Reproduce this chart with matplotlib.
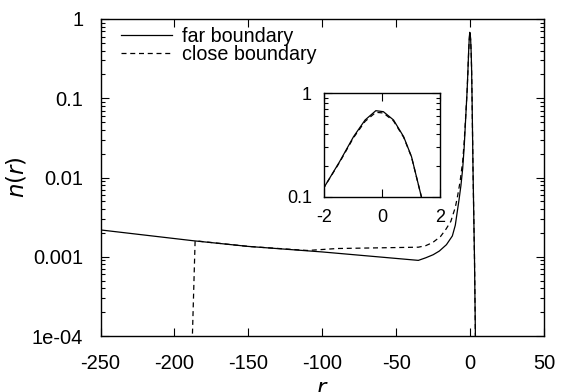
import numpy as np
import matplotlib
matplotlib.use("Agg")
from matplotlib import pyplot as plt
from matplotlib.ticker import FixedLocator, FixedFormatter, LogLocator, NullFormatter, NullLocator

plt.rcParams['font.family'] = ['Liberation Sans', 'DejaVu Sans']
plt.rcParams['axes.unicode_minus'] = False

# far boundary (solid)
r_far = [-250, -187, -150, -100, -35, -30, -25, -20.8, -16, -12.0, -10, -8.7, -7.5, -6.2, -5.0, -4.0, -3.0,
         -2.0, -1.48, -1.0, -0.6, -0.23, 0.03, 0.38, 0.73, 1.0, 1.34, 2.0, 3.0, 3.6, 4.0]
n_far = [0.00218, 0.00159, 0.00135, 0.00115, 0.0009, 0.00097, 0.00106, 0.00118, 0.00142, 0.00183, 0.0025,
         0.00367, 0.0052, 0.0079, 0.013, 0.024, 0.055,
         0.125, 0.218, 0.38, 0.552, 0.679, 0.664, 0.552, 0.38, 0.244, 0.1, 0.012, 0.0009, 0.0001, 0.00003]

# close boundary (dashed)
r_close = [-188.3, -186, -150, -110, -90, -35, -30, -25.3, -20, -16.3, -13, -11.8, -10, -8.4, -6.8, -5.0, -4.0, -3.0,
           -2.0, -1.48, -1.0, -0.6, -0.23, 0.03, 0.38, 0.73, 1.0, 1.34, 2.0, 3.0, 3.6, 4.0]
n_close = [0.00005, 0.00159, 0.00135, 0.0012, 0.00127, 0.00132, 0.00138, 0.00151, 0.0018, 0.00223, 0.0028,
           0.0033, 0.0042, 0.0059, 0.0088, 0.016, 0.028, 0.058,
           0.125, 0.215, 0.372, 0.535, 0.655, 0.645, 0.54, 0.375, 0.242, 0.1, 0.012, 0.0009, 0.0001, 0.00003]

x_ticks = [-250, -200, -150, -100, -50, 0, 50]
y_ticks = [1e-4, 1e-3, 1e-2, 1e-1, 1]
y_labels = ['1e-04', '0.001', '0.01', '0.1', '1']
inset_x_ticks = [-2, 0, 2]
inset_y_ticks = [0.1, 1]
inset_y_labels = ['0.1', '1']

fs = 14.5
fig = plt.figure(figsize=(5.62, 3.92), dpi=100)
ax = fig.add_axes([100.5/562, 1 - 336/392, 443.5/562, 317/392])


def style(a, xpad, ypad, size):
    for s in a.spines.values():
        s.set_linewidth(1.0)
    a.tick_params(which='both', direction='in', top=True, right=True, labelsize=size, width=0.8)
    a.tick_params(which='major', length=6)
    a.tick_params(which='minor', length=3)
    a.tick_params(axis='x', which='major', pad=xpad)
    a.tick_params(axis='y', which='major', pad=ypad)


ax.plot(r_far, n_far, color='black', lw=0.9, label='far boundary')
ax.plot(r_close, n_close, color='black', lw=0.9, ls=(0, (4, 3)), label='close boundary')
ax.set_yscale('log')
ax.set_xlim(-250, 50)
ax.set_ylim(1e-4, 1)
ax.xaxis.set_major_locator(FixedLocator(x_ticks))
ax.xaxis.set_minor_locator(NullLocator())
ax.yaxis.set_major_locator(FixedLocator(y_ticks))
ax.yaxis.set_major_formatter(FixedFormatter(y_labels))
ax.yaxis.set_minor_locator(LogLocator(base=10, subs=np.arange(2, 10)))
ax.yaxis.set_minor_formatter(NullFormatter())
style(ax, 13, 12.5, fs)
ax.set_xlabel('$r$', fontsize=fs + 2, labelpad=3)
ax.set_ylabel('$n(r)$', fontsize=fs + 2, labelpad=2)
ax.legend(loc='upper left', bbox_to_anchor=(0.047, 0.975), frameon=False, fontsize=14.2,
          handlelength=2.55, handletextpad=0.55, labelspacing=-0.05, borderpad=0, borderaxespad=0)

# inset
ins = fig.add_axes([324.5/562, 1 - 196.7/392, 116/562, 103.4/392])
ins.plot(r_far, n_far, color='black', lw=0.9)
ins.plot(r_close, n_close, color='black', lw=0.9, ls=(0, (4, 3)))
ins.set_yscale('log')
ins.set_xlim(-2, 2)
ins.set_ylim(0.1, 1)
ins.xaxis.set_major_locator(FixedLocator(inset_x_ticks))
ins.xaxis.set_minor_locator(NullLocator())
ins.yaxis.set_major_locator(FixedLocator(inset_y_ticks))
ins.yaxis.set_major_formatter(FixedFormatter(inset_y_labels))
ins.yaxis.set_minor_locator(LogLocator(base=10, subs=np.arange(2, 10)))
ins.yaxis.set_minor_formatter(NullFormatter())
style(ins, 9, 9, 13)

fig.savefig('out.png', dpi=100)
